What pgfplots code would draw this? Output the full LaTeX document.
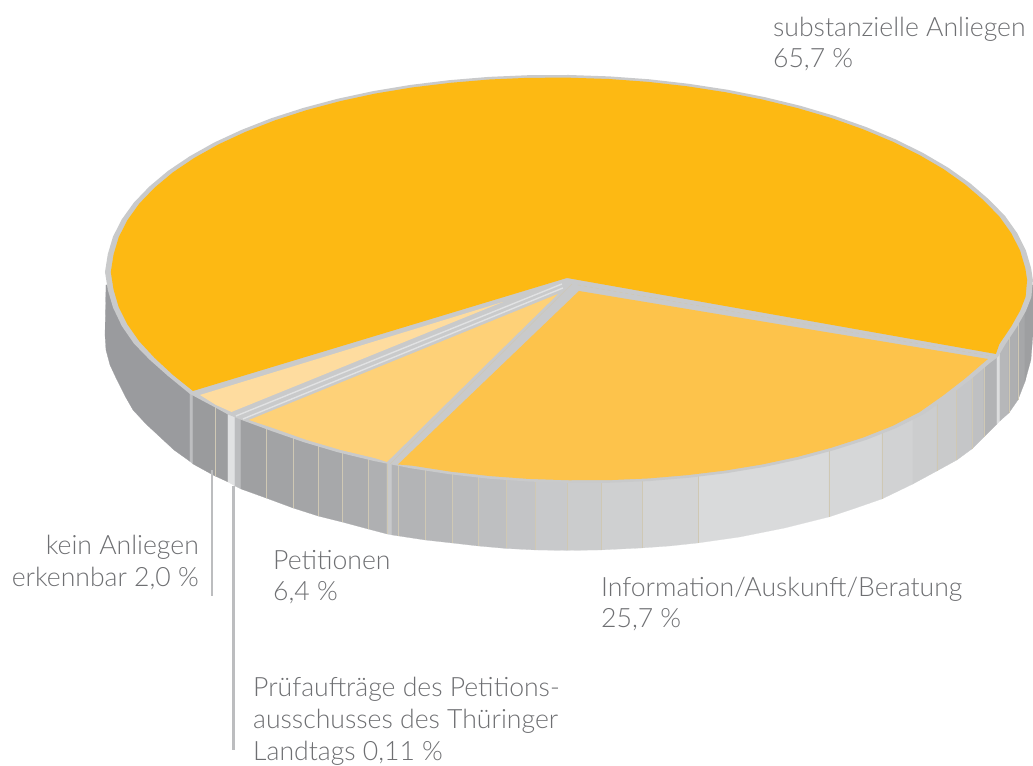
\documentclass[border=0pt]{standalone}
\usepackage{fontspec}
\setmainfont{Lato Light}
\usepackage{pgfplots}
\pgfplotsset{compat=1.18}
\def\hc#1{\definecolor{c#1}{HTML}{#1}}
\hc{9A9B9E}\hc{BDBEC0}\hc{9A9B9D}\hc{9C9D9F}\hc{E1E2E3}\hc{BCBDBF}\hc{9FA0A2}\hc{A2A3A5}\hc{A4A5A7}\hc{A7A8AA}\hc{ABACAE}\hc{AFB0B2}\hc{C8C9CB}\hc{B3B4B6}\hc{B6B7B9}\hc{BABBBD}\hc{BEBFC1}\hc{C3C4C6}\hc{CBCCCD}\hc{CFD0D1}\hc{D3D4D5}\hc{D9DADB}\hc{D6D7D8}\hc{D1D2D3}\hc{CCCDCE}\hc{C9CACB}\hc{C5C6C8}\hc{BFC0C2}\hc{B2B3B5}\hc{DCDDDE}\hc{AEAFB1}\hc{A6A7A9}\hc{9E9FA1}
\definecolor{seam}{HTML}{CFC8B4}
\definecolor{txt}{HTML}{6E6F72}
\definecolor{rim}{HTML}{C9CACB}
\definecolor{wedgeA}{HTML}{FDB913}
\definecolor{wedgeB}{HTML}{FDC34B}
\definecolor{wedgeC}{HTML}{FED178}
\definecolor{wedgeD}{HTML}{FEDC9F}
\definecolor{lead}{HTML}{BCBDBF}
\newcommand{\strip}[2]{\addplot[fill=c#1,draw=c#1,line width=.2pt] coordinates {#2} --cycle;}
\newcommand{\seamline}[2]{\addplot[draw=seam,line width=.5pt] coordinates {(#1,290) (#1,#2)};}
\newcommand{\lab}[3]{\node[anchor=base west,inner sep=0pt,text=txt,font=\fontsize{26.6}{30}\selectfont] at (axis cs:#1,#2) {#3};}
\newcommand{\labr}[3]{\node[anchor=base east,inner sep=0pt,text=txt,font=\fontsize{26.6}{30}\selectfont] at (axis cs:#1,#2) {#3};}
\begin{document}
\begin{tikzpicture}
\begin{axis}[scale only axis,width=1033pt,height=765pt,xmin=0,xmax=1033,ymin=0,ymax=765,y dir=reverse,hide axis,clip=false]
% side strips
\strip{9A9B9E}{(106,285)(190,285)(190,461.5)(188,460)(174,450)(160,437)(146,424)(133,410)(125,396)(117,380)(110,365)(106,350)(105,335)}
\strip{BDBEC0}{(190,285)(193,285)(193,464)(190,461.5)}
\strip{9A9B9D}{(193,285)(215,285)(215,476)(213,475)(193,464)}
\strip{9C9D9F}{(215,285)(228,285)(228,482)(215,476)}
\strip{E1E2E3}{(228,285)(235,285)(235,486)(228,482)}
\strip{BCBDBF}{(235,285)(241,285)(241,489)(235,486)}
\strip{9FA0A2}{(241,285)(266,285)(266,498)(241,489)}
\strip{A2A3A5}{(266,285)(293,285)(293,508)(266,498)}
\strip{A4A5A7}{(293,285)(318,285)(318,516)(293,508)}
\strip{A7A8AA}{(318,285)(342,285)(342,522)(318,516)}
\strip{ABACAE}{(342,285)(368,285)(368,529)(342,522)}
\strip{AFB0B2}{(368,285)(387,285)(387,534)(368,529)}
\strip{C8C9CB}{(387,285)(392,285)(392,535)(387,534)}
\strip{B3B4B6}{(392,285)(425,285)(425,540)(392,535)}
\strip{B6B7B9}{(425,285)(452,285)(452,543)(425,540)}
\strip{BABBBD}{(452,285)(478,285)(478,546)(452,543)}
\strip{BEBFC1}{(478,285)(506,285)(506,548.5)(478,546)}
\strip{C3C4C6}{(506,285)(535,285)(535,550)(506,548.5)}
\strip{C8C9CB}{(535,285)(567,285)(567,550.5)(535,550)}
\strip{CBCCCD}{(567,285)(601,285)(601,550)(567,550.5)}
\strip{CFD0D1}{(601,285)(642,285)(642,548)(601,550)}
\strip{D3D4D5}{(642,285)(698,285)(698,543)(670,546)(642,548)}
\strip{D9DADB}{(698,285)(829,285)(829,517)(785,528)(740,537)(698,543)}
\strip{D6D7D8}{(829,285)(882,285)(882,499)(856,508)(829,517)}
\strip{D1D2D3}{(882,285)(913,285)(913,484)(882,499)}
\strip{CCCDCE}{(913,285)(937,285)(937,471)(913,484)}
\strip{C9CACB}{(937,285)(957,285)(957,460)(937,471)}
\strip{C5C6C8}{(957,285)(972,285)(972,449)(957,460)}
\strip{BFC0C2}{(972,285)(984,285)(984,437)(972,449)}
\strip{B2B3B5}{(984,285)(997,285)(997,424)(984,437)}
\strip{DCDDDE}{(997,285)(1000,285)(1000,421)(997,424)}
\strip{B6B7B9}{(1000,285)(1009,285)(1009,413)(1000,421)}
\strip{AEAFB1}{(1009,285)(1018,285)(1018,400)(1009,413)}
\strip{A6A7A9}{(1018,285)(1025,285)(1025,382)(1018,400)}
\strip{9E9FA1}{(1025,285)(1033,285)(1033,335)(1031,360)(1025,382)}
% seams
\seamline{215}{476}\seamline{266}{498}\seamline{293}{508}\seamline{318}{516}\seamline{342}{522}\seamline{368}{529}\seamline{387}{534}\seamline{398}{536}\seamline{425}{540}\seamline{452}{543}\seamline{478}{546}\seamline{506}{548.5}\seamline{535}{550}\seamline{567}{550.5}\seamline{601}{550}\seamline{642}{548}\seamline{698}{543}\seamline{829}{517}\seamline{882}{499}\seamline{937}{471}\seamline{956}{460}\seamline{972}{449}\seamline{984}{437}\seamline{1009}{413}\seamline{1018}{400}
% leader lines
\addplot[draw=lead,line width=2.3pt] coordinates {(212,470)(212,596)};
\addplot[draw=lead,line width=2.3pt] coordinates {(233.5,486)(233.5,750)};
% rim
\addplot[fill=rim,draw=none] coordinates {
(1033,280)(1031.5,297)(1026,311)(1017,327)(1005,345)(998,357)(990,363)(970,380)(948,397)(924,414)(896.4,428)(866.6,439.8)(834.6,450)(800.5,459.2)(764.7,466.9)(727.3,473.1)(688.8,477.8)(649.4,481.1)(609.4,482.8)(569,483)
(528.6,481.6)(488.6,478.7)(449.2,474.2)(410.7,468.3)(373.3,460.9)(337.5,452.2)(303.4,442.1)(271.4,431)(241.6,420)(228,414.5)(214.3,407)(190,394)(168,376)(149.4,359.5)(133.9,343.5)(121.8,326)(113,307.5)(107.8,289.8)(105,272)
(107.8,254.2)(113,236.7)(121.8,219.4)(133.9,202.6)(149.4,186.5)(168,170.9)(189.7,156.3)(214.3,142.5)(241.6,129.9)(271.4,118.2)(303.4,107.9)(337.5,98.8)(373.3,91.1)(410.7,84.9)(449.2,80.2)(488.6,76.9)(528.6,75.2)(569,75)
(609.4,76.4)(649.4,79.3)(688.8,83.8)(727.3,89.7)(764.7,97.1)(800.5,105.8)(834.6,115.9)(866.6,127.2)(896.4,139.7)(923.7,153.3)(948.3,167.7)(970,183.1)(988.6,199.1)(1005,215.8)(1017.2,233)(1026,250.5)(1031.2,268.2)} --cycle;
% substanzielle Anliegen 65,7
\addplot[fill=wedgeA,draw=none] coordinates {
(567,278)(996,354)(999.5,344.1)(1011.4,326.4)(1020.3,310.6)(1025.7,296.8)(1027.2,280)(1025.4,268.3)(1020.3,250.9)(1011.6,233.6)(999.5,216.6)(983.4,200.1)(965,184.3)(943.6,169.1)(919.3,154.9)(892.3,141.5)(862.9,129.2)(831.3,118)(797.6,108.1)(762.3,99.5)(725.3,92.2)(687.3,86.3)(648.4,81.9)(608.9,79)(569,77.7)(529.1,77.8)(489.6,79.5)(450.7,82.8)(412.7,87.4)(375.7,93.5)(340.4,101.1)(306.7,110.1)(275.1,120.3)(245.7,131.8)(218.7,144.3)(194.4,157.9)(173,172.3)(154.6,187.7)(139.3,203.6)(127.4,220.2)(118.7,237.3)(113.6,254.5)(110.8,272.1)(113.6,289.7)(118.7,307.1)(127.4,324.4)(139.3,341.4)(154.6,357.9)(173,375)(193,391)} --cycle;
% Information 25,7
\addplot[fill=wedgeB,draw=none] coordinates {
(579,291)(988,359)(965,378.7)(943.3,395.5)(919.6,412.2)(892.3,426.1)(862.9,437.7)(831.3,447.8)(797.6,456.9)(762.3,464.5)(725.3,470.6)(687.3,475.2)(648.4,478.5)(608.9,480.2)(569,480.3)(529.1,479)(489.6,476.1)(450.7,471.7)(412.7,465.8)(398,464.5)} --cycle;
% Petitionen 6,4
\addplot[fill=wedgeC,draw=none] coordinates {
(558,294)(387,462)(375.7,458.4)(340.4,449.9)(306.7,440)(275.1,428.8)(249,420)} --cycle;
% kein Anliegen 2,0
\addplot[fill=wedgeD,draw=none] coordinates {
(503,302)(231.5,412)(216,405)(200,395)} --cycle;
% light stripes and seams on the top
\addplot[draw=cE1E2E3,line width=1.4pt] coordinates {(236,416)(562,284)};
\addplot[draw=cE1E2E3,line width=1.4pt] coordinates {(243,419)(563,288)};
\addplot[draw=seam,line width=.5pt] coordinates {(390,464)(572,284)};
\addplot[draw=seam,line width=.5pt,dashed] coordinates {(578,285)(990,356)};
% labels
\lab{773}{37}{substanzielle Anliegen}
\lab{773}{68}{65,7 \%}
\labr{199}{555}{kein Anliegen}
\labr{199}{587}{erkennbar 2,0 \%}
\lab{273}{570}{Petitionen}
\lab{273}{601}{6,4 \%}
\lab{601}{597}{Information/Auskunft/Beratung}
\lab{601}{628}{25,7 \%}
\lab{253}{697}{Prüfaufträge des Petitions-}
\lab{253}{729}{ausschusses des Thüringer}
\lab{253}{761}{Landtags 0,11 \%}
\end{axis}
\path[use as bounding box] (0,0) rectangle (1033pt,765pt);
\end{tikzpicture}
\end{document}
